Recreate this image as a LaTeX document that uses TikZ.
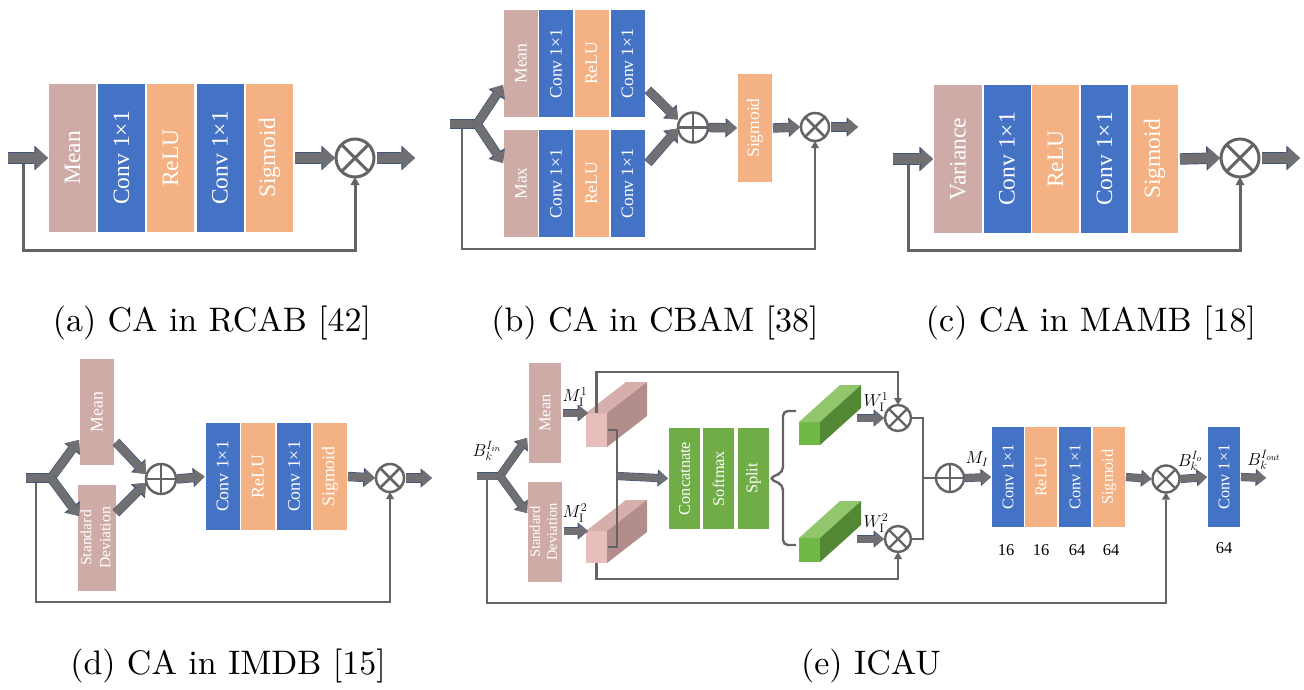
\documentclass[tikz,border=0pt]{standalone}
\usepackage{fontspec}
\usepackage{graphicx}
\usetikzlibrary{arrows.meta}
\newfontfamily\blkfont{Liberation Serif}
\newfontfamily\capfont[Extension=.otf]{lmroman10-regular}
\definecolor{cmean}{RGB}{207,171,168}
\definecolor{cblue}{RGB}{68,114,196}
\definecolor{corange}{RGB}{244,177,131}
\definecolor{cgreen}{RGB}{112,173,71}
\definecolor{afill}{RGB}{112,112,114}
\definecolor{aline}{RGB}{68,84,120}
\definecolor{lgray}{RGB}{100,100,100}
\definecolor{pkfront}{RGB}{232,190,188}
\definecolor{pktop}{RGB}{214,174,171}
\definecolor{pkside}{RGB}{178,141,139}
\definecolor{gnfront}{RGB}{112,185,70}
\definecolor{gntop}{RGB}{146,198,108}
\definecolor{gnside}{RGB}{82,136,52}
\tikzset{
  blk/.style={inner sep=0pt, outer sep=0pt, text=white},
  bA/.style={blk, minimum width=47pt, minimum height=148pt, font=\blkfont\fontsize{23.5}{24}\selectfont},
  bB/.style={blk, minimum width=34pt, minimum height=107pt, font=\blkfont\fontsize{17.5}{18}\selectfont},
  bD/.style={blk, minimum width=34pt, minimum height=106pt, font=\blkfont\fontsize{17.8}{18}\selectfont},
  bE/.style={blk, minimum width=32pt, minimum height=100pt, font=\blkfont\fontsize{16.3}{17}\selectfont},
  ring/.style={circle, draw=lgray, inner sep=0pt, outer sep=0pt, fill=white},
  otm/.style={ring, line width=#1, path picture={\draw[lgray, line width=#1]
     (path picture bounding box.north west) -- (path picture bounding box.south east)
     (path picture bounding box.north east) -- (path picture bounding box.south west);}},
  opl/.style={ring, line width=#1, path picture={\draw[lgray, line width=#1]
     (path picture bounding box.north) -- (path picture bounding box.south)
     (path picture bounding box.west) -- (path picture bounding box.east);}},
  fatA/.style={draw=afill, line width=10pt, -{Triangle[length=12pt,width=22pt,line width=0pt]},
     preaction={draw=aline, line width=11.4pt, -{Triangle[length=13.6pt,width=24.6pt,line width=0pt]}}},
  fatB/.style={draw=afill, line width=8pt, -{Triangle[length=10pt,width=17pt,line width=0pt]},
     preaction={draw=aline, line width=9.4pt, -{Triangle[length=11.5pt,width=19.5pt,line width=0pt]}}},
  fatE/.style={draw=afill, line width=7pt, -{Triangle[length=9pt,width=15pt,line width=0pt]},
     preaction={draw=aline, line width=8.2pt, -{Triangle[length=10.4pt,width=17.2pt,line width=0pt]}}},
  shB/.style={draw=afill, line width=8pt, preaction={draw=aline, line width=9.4pt}},
  shE/.style={draw=afill, line width=7pt, preaction={draw=aline, line width=8.2pt}},
  fbA/.style={draw=lgray, line width=3pt, -{Triangle[length=8pt,width=9pt,line width=0pt]}},
  fbB/.style={draw=lgray, line width=2.4pt, -{Triangle[length=7pt,width=8pt,line width=0pt]}},
  ln/.style={draw=lgray, line width=2.4pt},
  captxt/.style={font=\capfont\fontsize{34}{40}\selectfont, inner sep=0pt},
  ml/.style={font=\fontsize{17.5}{17.5}\selectfont, inner sep=0pt},
  num/.style={font=\blkfont\fontsize{16.5}{16.5}\selectfont, inner sep=0pt},
}
\begin{document}
\begin{tikzpicture}[x=1pt,y=-1pt]
\fill[white] (0,0) rectangle (1304,689);
\useasboundingbox (0,0) rectangle (1304,689);

% ---------------- (a) ----------------
\node[bA, fill=cmean]   (a1) at (72.5,158) {\rotatebox{90}{Mean}};
\node[bA, fill=cblue]   (a2) at (121.5,158) {\rotatebox{90}{Conv 1×1}};
\node[bA, fill=corange] (a3) at (170.5,158) {\rotatebox{90}{ReLU}};
\node[bA, fill=cblue]   (a4) at (220,158) {\rotatebox{90}{Conv 1×1}};
\node[bA, fill=corange] (a5) at (269.5,158) {\rotatebox{90}{Sigmoid}};
\node[otm=3pt, minimum size=38pt] (ax) at (355,158) {};
\coordinate (ain) at (8,158);
\coordinate (afb) at (23,158);
\coordinate (aout) at (415,158);
\draw[fbA] (afb) -- ++(0,92) -| (ax.south);
\draw[fatA] (ain) -- ([xshift=-1pt]a1.west);
\draw[fatA] ([xshift=2pt]a5.east) -- ([xshift=-1pt]ax.west);
\draw[fatA] ([xshift=3pt]ax.east) -- (aout);

% ---------------- (b) ----------------
\node[bB, fill=cmean]   (b1) at (521,63.5) {\rotatebox{90}{Mean}};
\node[bB, fill=cblue]   (b2) at (556,63.5) {\rotatebox{90}{Conv 1×1}};
\node[bB, fill=corange] (b3) at (591.5,63.5) {\rotatebox{90}{ReLU}};
\node[bB, fill=cblue]   (b4) at (627.5,63.5) {\rotatebox{90}{Conv 1×1}};
\node[bB, fill=cmean]   (b5) at (521,183.5) {\rotatebox{90}{Max}};
\node[bB, fill=cblue]   (b6) at (556,183.5) {\rotatebox{90}{Conv 1×1}};
\node[bB, fill=corange] (b7) at (591.5,183.5) {\rotatebox{90}{ReLU}};
\node[bB, fill=cblue]   (b8) at (627.5,183.5) {\rotatebox{90}{Conv 1×1}};
\node[bB, fill=corange, minimum height=108pt] (b9) at (755,128) {\rotatebox{90}{Sigmoid}};
\node[opl=2.5pt, minimum size=30pt] (bp) at (693,127.5) {};
\node[otm=2.5pt, minimum size=28pt] (bx) at (815,127) {};
\coordinate (bin) at (450,124);
\coordinate (bsp) at (477,124);
\coordinate (bfb) at (462,124);
\coordinate (bt1) at (503,85);
\coordinate (bt2) at (503,163);
\coordinate (bc1) at (648,90);
\coordinate (bc2) at (648,163);
\coordinate (bout) at (858,127);
\draw[fbB] (bfb) -- ++(0,125) -| (bx.south);
\draw[shB] (bin) -- (bsp);
\draw[fatB] (bsp) -- (bt1);
\draw[fatB] (bsp) -- (bt2);
\draw[fatB] (bc1) -- ([shift={(-15,-8)}]bp.center);
\draw[fatB] (bc2) -- ([shift={(-15,1)}]bp.center);
\draw[fatB] ([xshift=1pt]bp.east) -- ([xshift=-1pt]b9.west);
\draw[fatB] ([xshift=1pt]b9.east) -- ([xshift=-1pt]bx.west);
\draw[fatB] ([xshift=2pt]bx.east) -- (bout);

% ---------------- (c) ----------------
\node[bA, fill=cmean, minimum width=48pt] (c1) at (958,159) {\rotatebox{90}{Variance}};
\node[bA, fill=cblue]   (c2) at (1007,159) {\rotatebox{90}{Conv 1×1}};
\node[bA, fill=corange] (c3) at (1055.5,159) {\rotatebox{90}{ReLU}};
\node[bA, fill=cblue]   (c4) at (1104.5,159) {\rotatebox{90}{Conv 1×1}};
\node[bA, fill=corange] (c5) at (1154.5,159) {\rotatebox{90}{Sigmoid}};
\node[otm=3pt, minimum size=38pt] (cx) at (1240,158) {};
\coordinate (cin) at (893,159);
\coordinate (cfb) at (908,159);
\coordinate (cout) at (1300,158);
\draw[fbA] (cfb) -- ++(0,91) -| (cx.south);
\draw[fatA] (cin) -- ([xshift=-1pt]c1.west);
\draw[fatA] ([xshift=2pt]c5.east) -- ([xshift=-1pt]cx.west);
\draw[fatA] ([xshift=3pt]cx.east) -- (cout);

% ---------------- (d) ----------------
\node[bD, fill=cmean] (d1) at (97,412) {\rotatebox{90}{Mean}};
\node[bD, fill=cmean, font=\blkfont\fontsize{15.7}{19}\selectfont] (d2) at (97,538)
   {\rotatebox{90}{\begin{tabular}{@{}c@{}}Standard\\Deviation\end{tabular}}};
\node[bD, minimum height=107pt, fill=cblue]   (d3) at (222.5,476.5) {\rotatebox{90}{Conv 1×1}};
\node[bD, minimum height=107pt, fill=corange] (d4) at (258,476.5) {\rotatebox{90}{ReLU}};
\node[bD, minimum height=107pt, fill=cblue]   (d5) at (294,476.5) {\rotatebox{90}{Conv 1×1}};
\node[bD, minimum height=107pt, fill=corange] (d6) at (330,476.5) {\rotatebox{90}{Sigmoid}};
\node[opl=2.5pt, minimum size=30pt] (dp) at (161,479) {};
\node[otm=2.5pt, minimum size=28pt] (dx) at (390,478) {};
\coordinate (din) at (26,478);
\coordinate (dsp) at (51,478);
\coordinate (dfb) at (36,478);
\coordinate (dt1) at (79,440);
\coordinate (dt2) at (79,516);
\coordinate (dc1) at (116,442);
\coordinate (dc2) at (116,513);
\coordinate (dout) at (432,478);
\draw[fbB] (dfb) -- ++(0,124) -| (dx.south);
\draw[shB] (din) -- (dsp);
\draw[fatB] (dsp) -- (dt1);
\draw[fatB] (dsp) -- (dt2);
\draw[fatB] (dc1) -- ([shift={(-15,-5)}]dp.center);
\draw[fatB] (dc2) -- ([shift={(-15,4)}]dp.center);
\draw[fatB] ([xshift=1pt]dp.east) -- ([xshift=-1pt]d3.west);
\draw[fatB] ([xshift=1pt]d6.east) -- ([xshift=-1pt]dx.west);
\draw[fatB] ([xshift=2pt]dx.east) -- (dout);

% ---------------- (e) ----------------
\node[bE, fill=cmean] (e1) at (545,413) {\rotatebox{90}{Mean}};
\node[bE, fill=cmean, font=\blkfont\fontsize{14.5}{17}\selectfont] (e2) at (545,532)
   {\rotatebox{90}{\begin{tabular}{@{}c@{}}Standard\\Deviation\end{tabular}}};
% pink cuboids
\node[fill=pkfront, minimum width=21pt, minimum height=34pt, inner sep=0pt, outer sep=0pt] (pk1) at (596.5,430) {};
\fill[pktop] (pk1.north west) -- ++(40,-31) -- ++(21,0) -- (pk1.north east) -- cycle;
\fill[pkside] (pk1.north east) -- ++(40,-31) -- ++(0,34) -- (pk1.south east) -- cycle;
\node[fill=pkfront, minimum width=21pt, minimum height=32pt, inner sep=0pt, outer sep=0pt] (pk2) at (596.5,547) {};
\fill[pktop] (pk2.north west) -- ++(40,-31) -- ++(21,0) -- (pk2.north east) -- cycle;
\fill[pkside] (pk2.north east) -- ++(40,-31) -- ++(0,32) -- (pk2.south east) -- cycle;
% green blocks
\node[bE, fill=cgreen, minimum width=31pt, minimum height=101pt] (g1) at (684.5,478.5) {\rotatebox{90}{Concatnate}};
\node[bE, fill=cgreen, minimum width=31pt, minimum height=101pt] (g2) at (718.5,478.5) {\rotatebox{90}{Softmax}};
\node[bE, fill=cgreen, minimum width=31pt, minimum height=101pt] (g3) at (753.5,478.5) {\rotatebox{90}{Split}};
% green cuboids
\node[fill=gnfront, minimum width=21pt, minimum height=23pt, inner sep=0pt, outer sep=0pt] (gb1) at (809.5,433.5) {};
\fill[gntop] (gb1.north west) -- ++(41,-37) -- ++(21,0) -- (gb1.north east) -- cycle;
\fill[gnside] (gb1.north east) -- ++(41,-37) -- ++(0,23) -- (gb1.south east) -- cycle;
\node[fill=gnfront, minimum width=21pt, minimum height=24pt, inner sep=0pt, outer sep=0pt] (gb2) at (809.5,550) {};
\fill[gntop] (gb2.north west) -- ++(41,-37) -- ++(21,0) -- (gb2.north east) -- cycle;
\fill[gnside] (gb2.north east) -- ++(41,-37) -- ++(0,24) -- (gb2.south east) -- cycle;
% operators
\node[otm=2.4pt, minimum size=26pt] (ex1) at (898,418) {};
\node[otm=2.4pt, minimum size=26pt] (ex2) at (898,539) {};
\node[opl=2.4pt, minimum size=28pt] (ep) at (950,478) {};
\node[otm=2.4pt, minimum size=27pt] (ex3) at (1166,479) {};
% right blocks
\node[bE, fill=cblue]   (e3) at (1008,477) {\rotatebox{90}{Conv 1×1}};
\node[bE, fill=corange] (e4) at (1041,477) {\rotatebox{90}{ReLU}};
\node[bE, fill=cblue]   (e5) at (1075,477) {\rotatebox{90}{Conv 1×1}};
\node[bE, fill=corange] (e6) at (1109,477) {\rotatebox{90}{Sigmoid}};
\node[bE, fill=cblue]   (e7) at (1224,477) {\rotatebox{90}{Conv 1×1}};
% coordinates
\coordinate (ein) at (477,476);
\coordinate (esp) at (500,476);
\coordinate (efb) at (487,476);
\coordinate (et1) at (527,438);
\coordinate (et2) at (527,513);
\coordinate (brk) at (617,476);
\coordinate (ew1) at (857,418);
\coordinate (ew2) at (857,539);
\coordinate (ejn) at (923,478);
\coordinate (eout) at (1266,478);
% lines
\draw[fbB] (efb) -- ++(0,127) -| (ex3.south);
\draw[fbB] (pk1.north) -- ++(0,-41) -| (ex1.north);
\draw[fbB] (pk2.south) -- ++(0,16) -| (ex2.south);
\draw[ln] ([xshift=1pt]pk1.east) -| (brk) |- ([xshift=1pt]pk2.east);
\draw[ln, rounded corners=5pt] (796,411) -- (783,411) -- (783,472) -- (g3.east) -- (783,485) -- (783,545) -- (796,545);
\draw[ln] (ex1.east) -| (ejn) |- (ex2.east);
\draw[ln] (ejn) -- (ep.west);
% fat arrows
\draw[shE] (ein) -- (esp);
\draw[fatE] (esp) -- (et1);
\draw[fatE] (esp) -- (et2);
\draw[fatE] ([xshift=2pt]e1.east) -- ([xshift=2pt]pk1.north west);
\draw[fatE] ([xshift=2pt]e2.east |- pk2.north west) -- ([xshift=2pt]pk2.north west);
\draw[fatE] (brk) -- ([xshift=-1pt]g1.west);
\draw[fatE] (ew1) -- ([xshift=-1pt]ex1.west);
\draw[fatE] (ew2) -- ([xshift=-1pt]ex2.west);
\draw[fatE] ([xshift=1pt]ep.east) -- ([xshift=-1pt]e3.west);
\draw[fatE] ([xshift=1pt]e6.east) -- ([xshift=-1pt]ex3.west);
\draw[fatE] ([xshift=1pt]ex3.east) -- ([xshift=-1pt]e7.west);
\draw[fatE] ([xshift=1pt]e7.east) -- (eout);
% labels
\node[ml] (lbin) at (487,451) {$B_k^{I_{in}}$};
\node[ml] (lm1) at (575,397) {$M_{\mathrm{I}}^{1}$};
\node[ml] (lm2) at (575,513) {$M_{\mathrm{I}}^{2}$};
\node[ml] (lw1) at (876,402) {$W_{\mathrm{I}}^{1}$};
\node[ml] (lw2) at (876,523) {$W_{\mathrm{I}}^{2}$};
\node[ml] (lmi) at (977,459) {$M_I$};
\node[ml] (lbo) at (1190,461) {$B_k^{I_o}$};
\node[ml] (lbout) at (1264,460) {$B_k^{I_{out}}$};
\node[num] (n1) at (1006,550) {16};
\node[num] (n2) at (1041,550) {16};
\node[num] (n3) at (1077,550) {64};
\node[num] (n4) at (1111,550) {64};
\node[num] (n5) at (1224,548) {64};

% captions
\node[captxt] (capa) at (212,322.5) {(a) CA in RCAB [42]};
\node[captxt] (capb) at (655,322.5) {(b) CA in CBAM [38]};
\node[captxt] (capc) at (1091,322.5) {(c) CA in MAMB [18]};
\node[captxt] (capd) at (228,666) {(d) CA in IMDB [15]};
\node[captxt] (cape) at (871,666) {(e) ICAU};
\end{tikzpicture}
\end{document}
